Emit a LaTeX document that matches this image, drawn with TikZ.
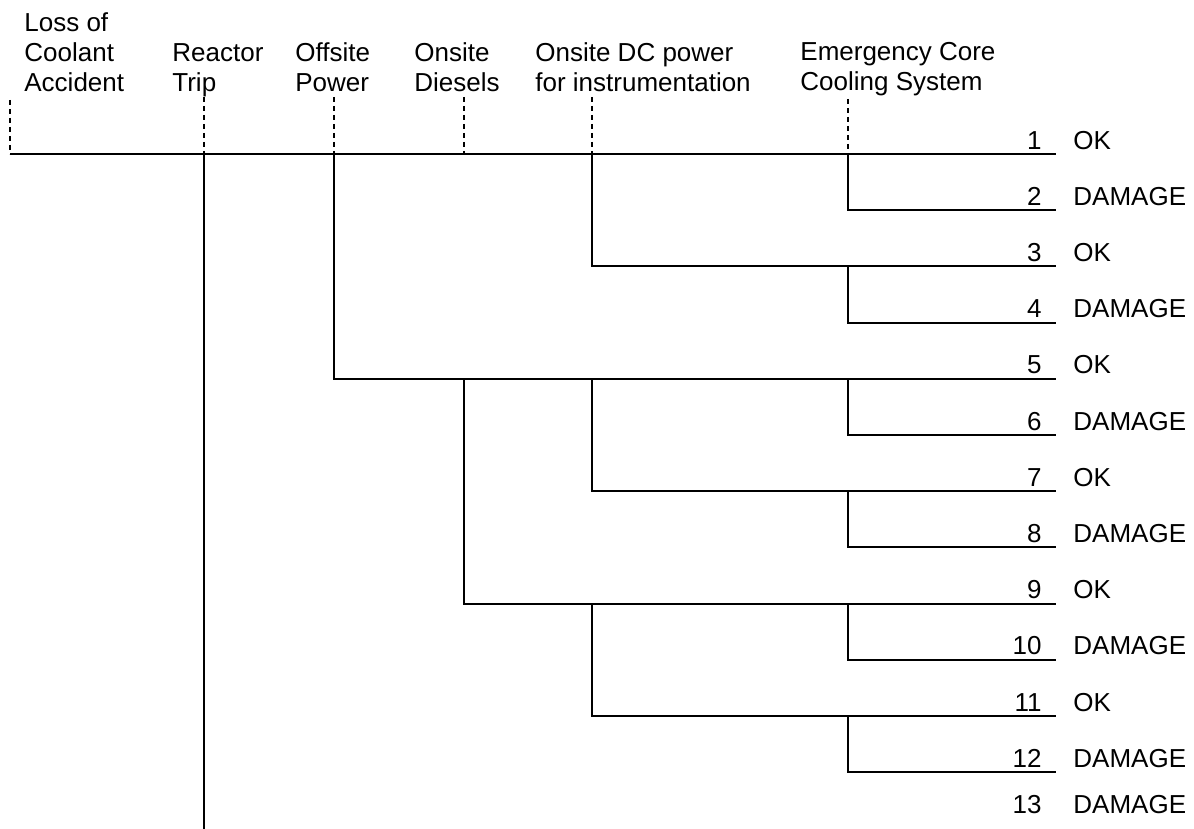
\documentclass[tikz,border=0pt]{standalone}
\usepackage{fontspec}
\setmainfont{Liberation Sans}
\begin{document}
\begin{tikzpicture}[x=0.5pt,y=-0.5pt,
  tree/.style={line width=1pt},
  guide/.style={line width=0.7pt, dash pattern=on 2.5pt off 2pt},
  lbl/.style={inner sep=0pt, font=\fontsize{13}{15}\selectfont},
  head/.style={lbl, anchor=base west, align=left},
  num/.style={lbl, anchor=base east},
  res/.style={lbl, anchor=base west}]
\useasboundingbox (0,0) rectangle (1194,829);

% event headings (anchored at the baseline of the last line)
\node[head] (h0) at (24,92)  {Loss of\\Coolant\\Accident};
\node[head] (h1) at (172,92) {Reactor\\Trip};
\node[head] (h2) at (295,92) {Offsite\\Power};
\node[head] (h3) at (414,92) {Onsite\\Diesels};
\node[head] (h4) at (535,92) {Onsite DC power\\for instrumentation};
\node[head] (h5) at (800,91) {Emergency Core\\Cooling System};

% row heights, line ends and sequence numbers
\foreach \k in {1,...,12}{
  \pgfmathsetmacro{\yy}{154+56.2*(\k-1)}
  \coordinate (e\k) at (1056,\yy);
  \node[num] (n\k) at (1042,\yy-5) {\k};
}
\node[num] (n13) at (1042,813) {13};

% outcomes
\node[res] (r1)  at (1073,149)    {OK};
\node[res] (r2)  at (1073,205.2)  {DAMAGE};
\node[res] (r3)  at (1073,261.4)  {OK};
\node[res] (r4)  at (1073,317.6)  {DAMAGE};
\node[res] (r5)  at (1073,373.8)  {OK};
\node[res] (r6)  at (1073,430)    {DAMAGE};
\node[res] (r7)  at (1073,486.2)  {OK};
\node[res] (r8)  at (1073,542.4)  {DAMAGE};
\node[res] (r9)  at (1073,598.6)  {OK};
\node[res] (r10) at (1073,654.8)  {DAMAGE};
\node[res] (r11) at (1073,711)    {OK};
\node[res] (r12) at (1073,767.2)  {DAMAGE};
\node[res] (r13) at (1073,813)    {DAMAGE};

% dashed guides from headings to the initiating line
\coordinate (s) at (10,154);
\coordinate (g0) at (10,100);
\coordinate (g1) at (204,97);
\coordinate (g2) at (334,97);
\coordinate (g3) at (464,97);
\coordinate (g4) at (592,97);
\coordinate (g5) at (848,99);
\draw[guide] (g0) -- (s);
\foreach \i in {1,...,5} \draw[guide] (g\i) -- (g\i |- s);

% main sequence
\draw[tree] (s) -- (e1);

% reactor trip failure branch
\coordinate (tb) at (204,829);
\draw[tree] (g1 |- s) -- (tb);

% offsite power failure
\draw[tree] (g2 |- e1) -- (g2 |- e5) -- (e5);

% onsite diesels failure
\draw[tree] (g3 |- e5) -- (g3 |- e9) -- (e9);

% DC power failures
\draw[tree] (g4 |- e1) -- (g4 |- e3) -- (e3);
\draw[tree] (g4 |- e5) -- (g4 |- e7) -- (e7);
\draw[tree] (g4 |- e9) -- (g4 |- e11) -- (e11);

% ECCS failures
\foreach \a/\b in {1/2,3/4,5/6,7/8,9/10,11/12}
  \draw[tree] (g5 |- e\a) -- (g5 |- e\b) -- (e\b);
\end{tikzpicture}
\end{document}
